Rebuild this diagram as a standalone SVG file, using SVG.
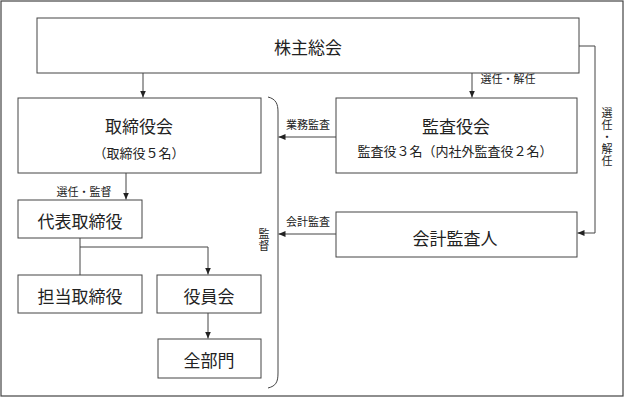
<svg xmlns="http://www.w3.org/2000/svg" width="625" height="398" viewBox="0 0 625 398">
<defs>
<marker id="ah" markerWidth="8" markerHeight="8" refX="7" refY="4" orient="auto" markerUnits="userSpaceOnUse">
<path d="M0,1 L7,4 L0,7 Z" fill="#222"/>
</marker>
<style>
.box{fill:#fff;stroke:#444;stroke-width:1}
.ln{fill:none;stroke:#444;stroke-width:1}
.t{font-family:"Noto Sans CJK JP","Liberation Serif",sans-serif;fill:#222;text-anchor:middle;dominant-baseline:central}
.v{font-family:"Noto Sans CJK JP","Liberation Serif",sans-serif;fill:#222;text-anchor:middle;writing-mode:vertical-rl;font-size:11px;letter-spacing:1px}
.big{font-size:17px}
.mid{font-size:13px}
.sm{font-size:11px}
</style>
</defs>
<rect x="1" y="1" width="622" height="395" fill="#fff" stroke="#444" stroke-width="1.2"/>
<g id="connectors">
<path class="ln" d="M143,73 V97.5" marker-end="url(#ah)"/>
<path class="ln" d="M472,73 V97.5" marker-end="url(#ah)"/>
<path class="ln" d="M579,46 H595 V233 H577.5" marker-end="url(#ah)"/>
<path class="ln" d="M126,173 V199.5" marker-end="url(#ah)"/>
<path class="ln" d="M80,238 V275 M80,247 H208 V274.5" marker-end="url(#ah)"/>
<path class="ln" d="M208,313 V338.5" marker-end="url(#ah)"/>
<path class="ln" d="M336,137 H278.5" marker-end="url(#ah)"/>
<path class="ln" d="M336,234 H278.5" marker-end="url(#ah)"/>
<path class="ln" d="M268,97 C276,99 278,104 278,112 L278,373 C278,382 276,386 268,388"/>
<text class="t sm" x="508" y="78">選任・解任</text>
<text class="t sm" x="84" y="191">選任・監督</text>
<text class="t sm" x="308" y="124">業務監査</text>
<text class="t sm" x="308" y="221">会計監査</text>
<text class="v" x="607" y="137">選任・解任</text>
<text class="v" x="264" y="240">監督</text>
</g>
<g id="shareholders">
<rect class="box" x="37" y="18" width="542" height="55"/>
<text class="t big" x="308" y="46">株主総会</text>
</g>
<g id="board">
<rect class="box" x="18" y="98" width="243" height="75"/>
<text class="t big" x="139" y="125">取締役会</text>
<text class="t mid" x="139" y="152">（取締役５名）</text>
</g>
<g id="auditors">
<rect class="box" x="336" y="98" width="241" height="75"/>
<text class="t big" x="456" y="125">監査役会</text>
<text class="t mid" x="455" y="150">監査役３名（内社外監査役２名）</text>
</g>
<g id="accounting-auditor">
<rect class="box" x="336" y="212" width="241" height="45"/>
<text class="t big" x="455" y="237">会計監査人</text>
</g>
<g id="representative">
<rect class="box" x="18" y="200" width="124" height="38"/>
<text class="t big" x="80" y="220">代表取締役</text>
</g>
<g id="directors">
<rect class="box" x="18" y="275" width="124" height="38"/>
<text class="t big" x="80" y="295">担当取締役</text>
</g>
<g id="officers">
<rect class="box" x="157" y="275" width="104" height="38"/>
<text class="t big" x="209" y="295">役員会</text>
</g>
<g id="departments">
<rect class="box" x="158" y="339" width="103" height="39"/>
<text class="t big" x="209" y="359">全部門</text>
</g>
</svg>
